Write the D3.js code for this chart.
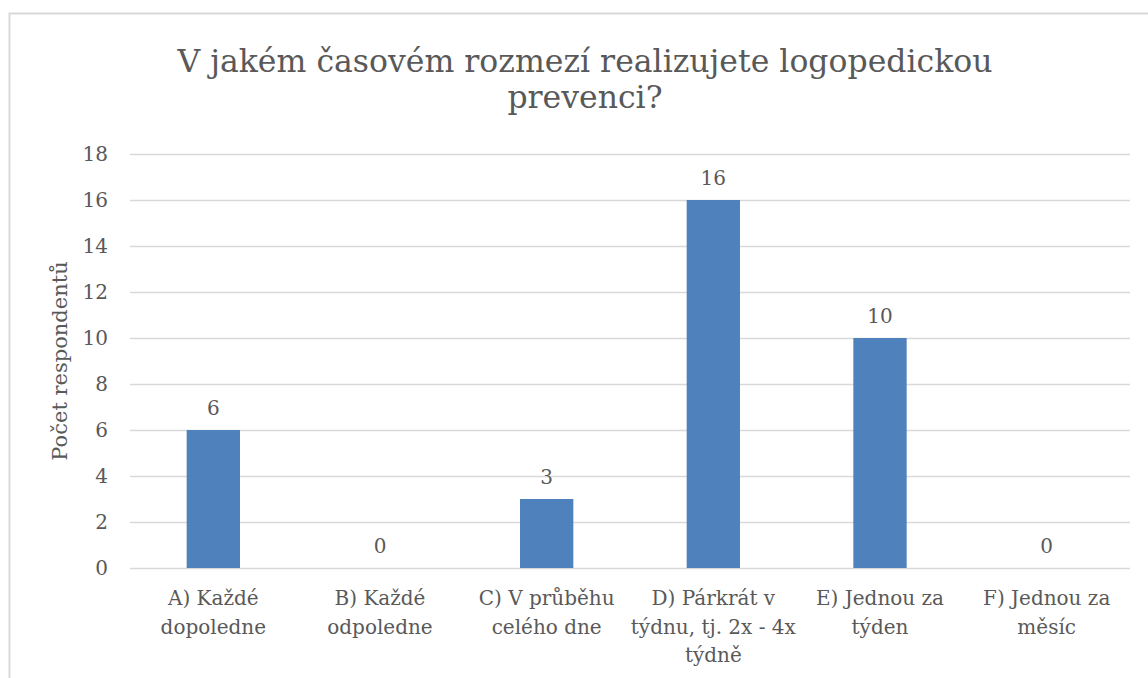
<!DOCTYPE html>
<meta charset="utf-8">
<script src="https://d3js.org/d3.v7.min.js"></script>
<style>
  body { margin: 0; background: #fff; }
  text { font-family: "DejaVu Serif", "Liberation Serif", serif; fill: #595959; }
</style>
<body>
<div id="canvas"></div>
<script>
  var categories = [
    ["A) Každé", "dopoledne"],
    ["B) Každé", "odpoledne"],
    ["C) V průběhu", "celého dne"],
    ["D) Párkrát v", "týdnu, tj. 2x - 4x", "týdně"],
    ["E) Jednou za", "týden"],
    ["F) Jednou za", "měsíc"]
  ];
  var values = [6, 0, 3, 16, 10, 0];
  var yTicks = [0, 2, 4, 6, 8, 10, 12, 14, 16, 18];
  var titleLines = ["V jakém časovém rozmezí realizujete logopedickou", "prevenci?"];
  var yTitle = "Počet respondentů";

  var width = 1148, height = 678;
  var m = {left: 130, right: 18, top: 154, bottom: 110};

  var svg = d3.select("#canvas").append("svg")
      .attr("width", width)
      .attr("height", height);

  // ramecek grafu
  svg.append("path")
      .attr("d", "M9.5," + height + "V13.5H" + width)
      .attr("fill", "none")
      .attr("stroke", "#d9d9d9")
      .attr("stroke-width", 2);

  var x = d3.scaleBand()
      .domain(d3.range(categories.length))
      .range([m.left, width - m.right])
      .paddingInner(0.68)
      .paddingOuter(0.34);

  var y = d3.scaleLinear()
      .domain([0, 18])
      .range([height - m.bottom, m.top]);

  // mrizka
  svg.append("g")
      .selectAll("line")
      .data(yTicks)
      .enter()
      .append("line")
      .attr("x1", m.left)
      .attr("x2", width - m.right)
      .attr("y1", function(d){ return Math.round(y(d)) + 0.5; })
      .attr("y2", function(d){ return Math.round(y(d)) + 0.5; })
      .attr("stroke", "#d9d9d9")
      .attr("stroke-width", 1.3);

  var yAxis = svg.append("g")
      .attr("transform", "translate(" + m.left + ",0)")
      .call(d3.axisLeft(y).tickValues(yTicks).tickSize(0).tickPadding(22));
  yAxis.select(".domain").remove();
  yAxis.selectAll("text")
      .style("font-size", "20px")
      .attr("fill", "#595959");

  svg.selectAll("rect.bar")
      .data(values)
      .enter()
      .append("rect")
      .attr("class", "bar")
      .attr("x", function(d, i){ return x(i); })
      .attr("y", function(d){ return y(d); })
      .attr("width", x.bandwidth())
      .attr("height", function(d){ return y(0) - y(d); })
      .attr("fill", "#4f81bd");

  svg.selectAll("text.val")
      .data(values)
      .enter()
      .append("text")
      .attr("class", "val")
      .attr("x", function(d, i){ return x(i) + x.bandwidth() / 2; })
      .attr("y", function(d){ return y(d) - 15; })
      .attr("text-anchor", "middle")
      .style("font-size", "20px")
      .text(function(d){ return d; });

  // popisky kategorii
  var cat = svg.selectAll("text.cat")
      .data(categories)
      .enter()
      .append("text")
      .attr("class", "cat")
      .attr("text-anchor", "middle")
      .style("font-size", "20px");
  cat.each(function(lines, i){
    var t = d3.select(this);
    lines.forEach(function(l, j){
      t.append("tspan")
        .attr("x", x(i) + x.bandwidth() / 2)
        .attr("y", y(0) + 37 + j * 28.5)
        .text(l);
    });
  });

  svg.append("text")
      .attr("transform", "translate(67," + (m.top + (y(0) - m.top) / 2) + ") rotate(-90)")
      .attr("text-anchor", "middle")
      .style("font-size", "21px")
      .text(yTitle);

  svg.selectAll("text.title")
      .data(titleLines)
      .enter()
      .append("text")
      .attr("class", "title")
      .attr("x", 585)
      .attr("y", function(d, i){ return 72 + i * 36; })
      .attr("text-anchor", "middle")
      .style("font-size", "31.5px")
      .text(function(d){ return d; });
</script>
</body>
